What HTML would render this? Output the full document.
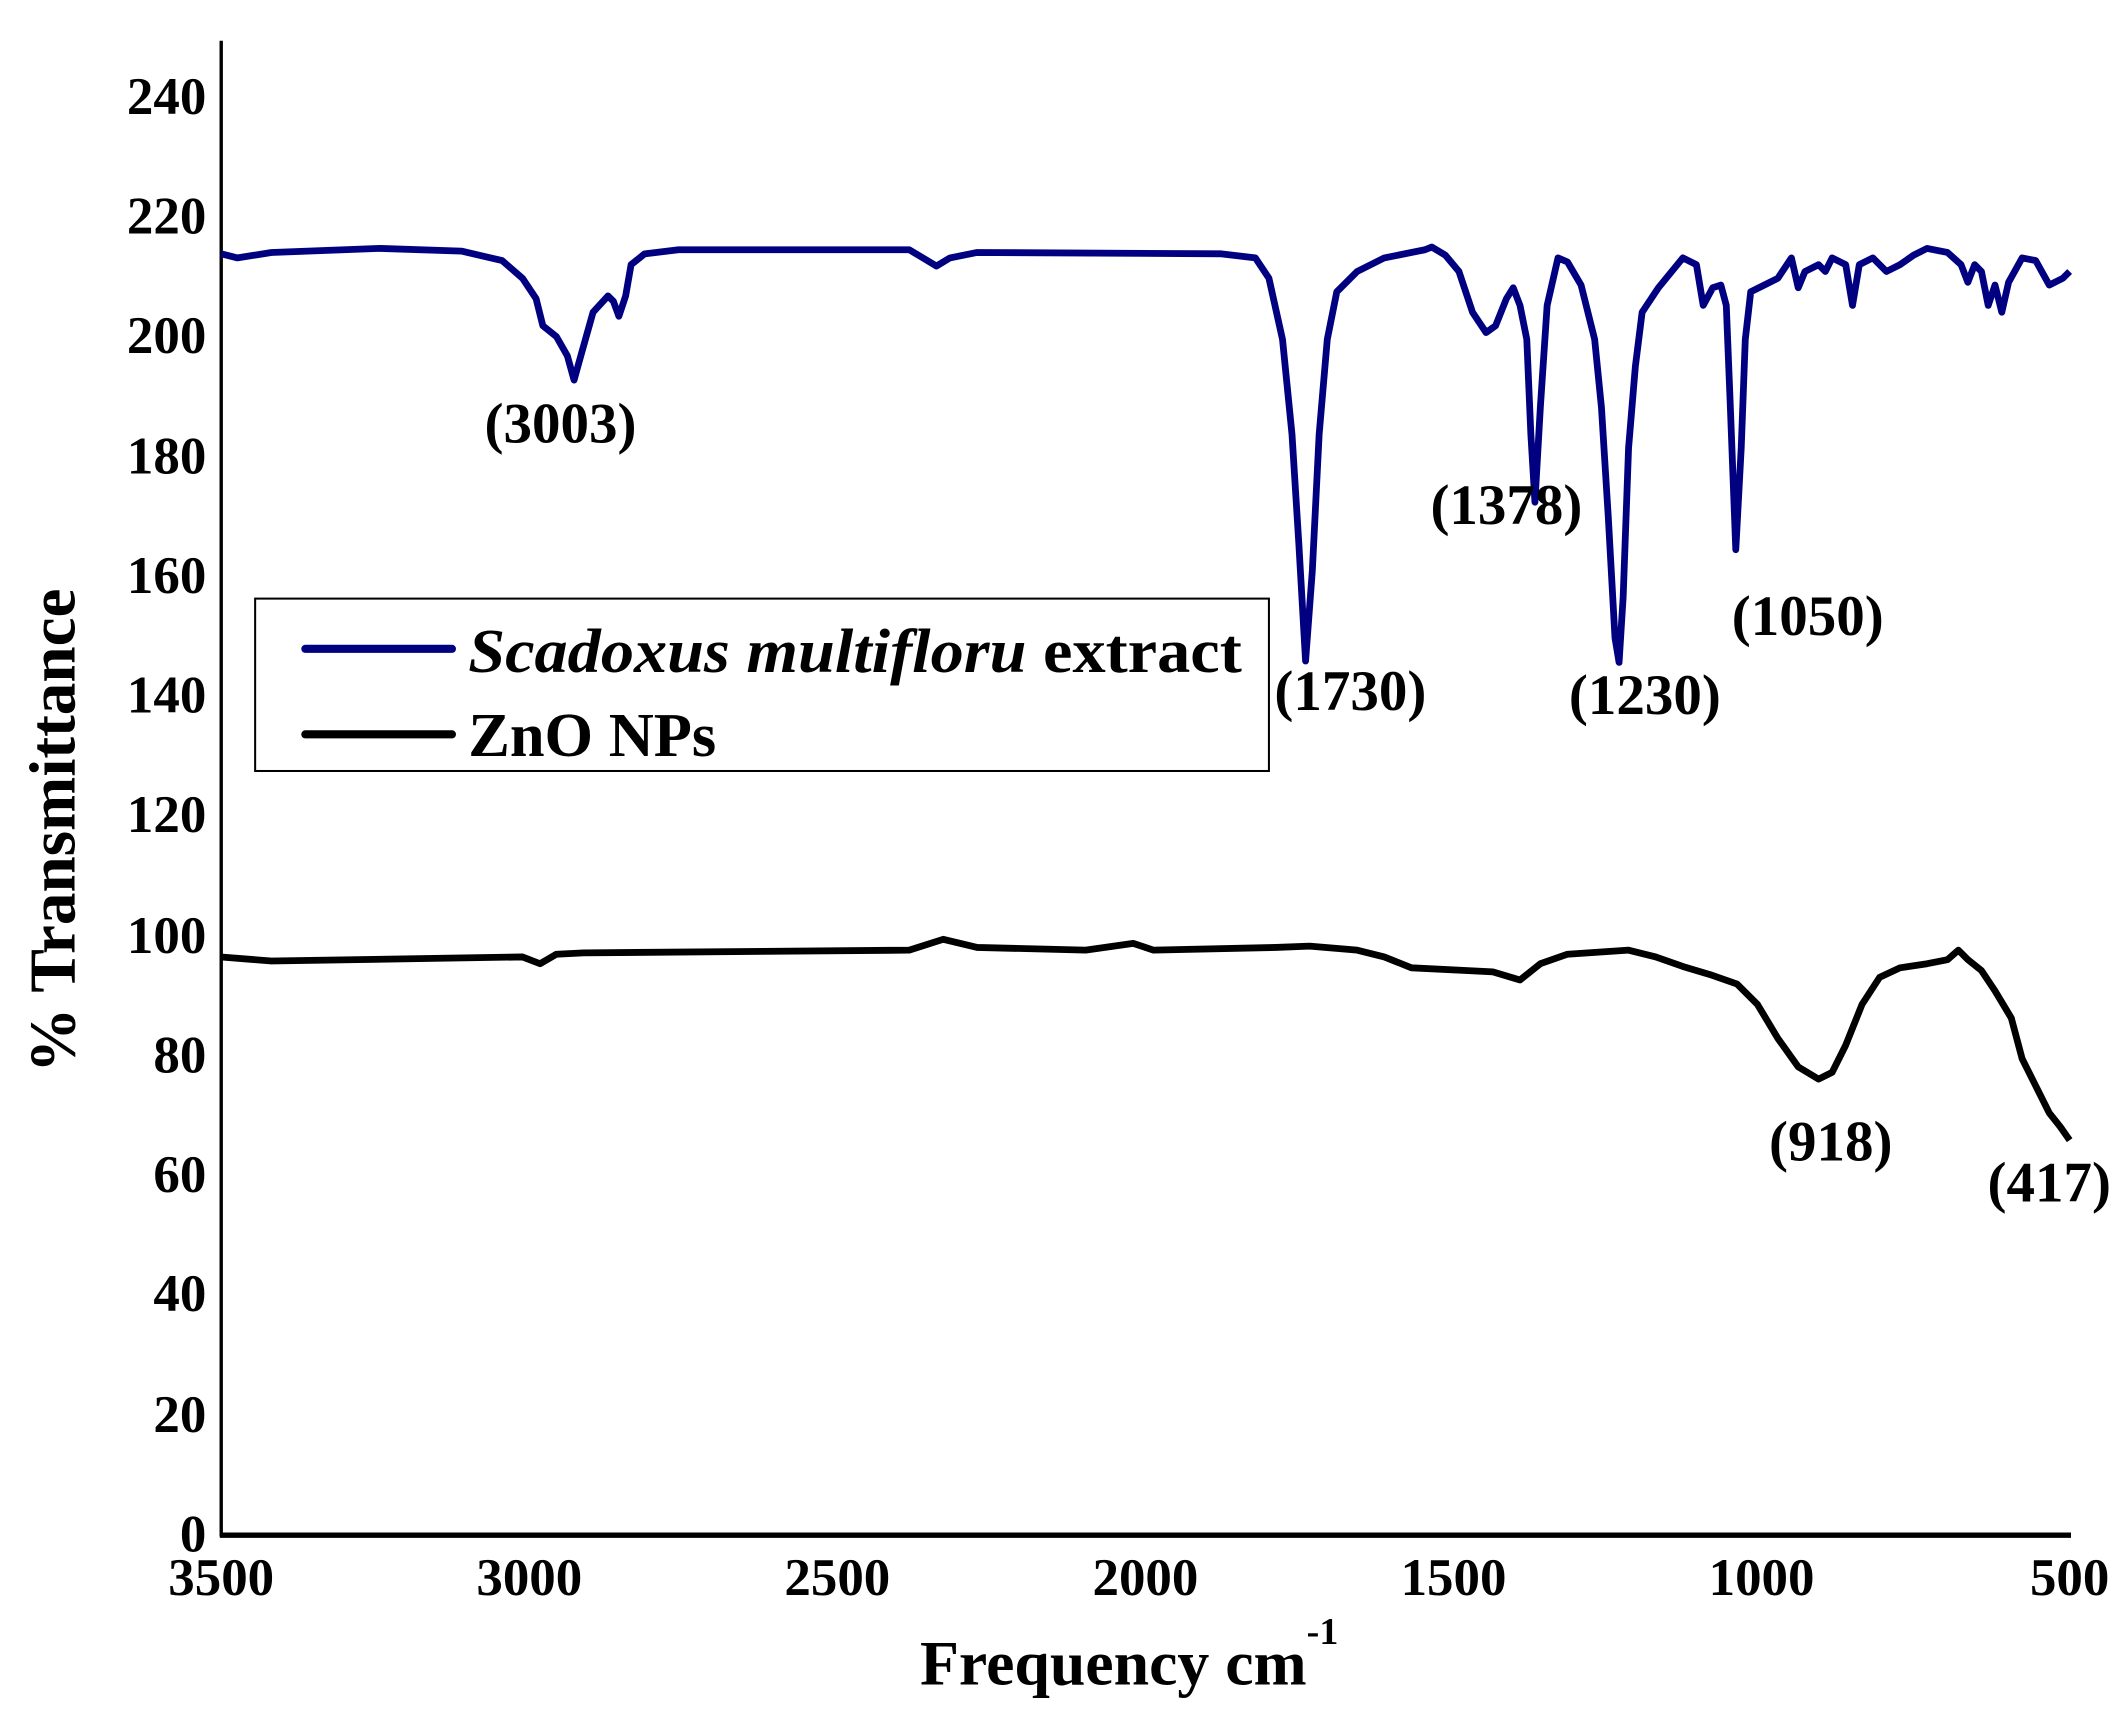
<!DOCTYPE html>
<html><head><meta charset="utf-8"><style>
html,body{margin:0;padding:0;background:#fff;width:2128px;height:1713px;overflow:hidden}
svg{display:block}
text{font-family:"Liberation Serif",serif;font-weight:bold;fill:#000}
</style></head><body>
<svg width="2128" height="1713" viewBox="0 0 1568 1262" preserveAspectRatio="none" xmlns="http://www.w3.org/2000/svg">
<rect width="1568" height="1262" fill="#fff"/>
<line x1="163" y1="30" x2="163" y2="1132" stroke="#000" stroke-width="2.5"/>
<line x1="162" y1="1131" x2="1526" y2="1131" stroke="#000" stroke-width="4"/>
<g font-size="39" text-anchor="end">
<text x="152" y="84">240</text><text x="152" y="172">220</text><text x="152" y="260">200</text>
<text x="152" y="349">180</text><text x="152" y="437">160</text><text x="152" y="525">140</text>
<text x="152" y="613">120</text><text x="152" y="702">100</text><text x="152" y="790">80</text>
<text x="152" y="878">60</text><text x="152" y="966">40</text><text x="152" y="1055">20</text>
<text x="152" y="1143">0</text>
</g>
<g font-size="39" text-anchor="middle">
<text x="163" y="1175">3500</text><text x="390" y="1175">3000</text><text x="617" y="1175">2500</text>
<text x="844" y="1175">2000</text><text x="1071" y="1175">1500</text><text x="1298" y="1175">1000</text>
<text x="1525" y="1175">500</text>
</g>
<text x="832" y="1241" font-size="47" text-anchor="middle">Frequency cm<tspan font-size="28" dy="-30">-1</tspan></text>
<text transform="translate(55,612) rotate(-90)" font-size="48" text-anchor="middle">% Transmittance</text>
<polyline fill="none" stroke="#000080" stroke-width="5" stroke-linejoin="round" points="163,187 175,190 200,186 280,183 340,185 370,192 385,205 395,220 400,240 410,248 418,262 423,280 428,262 437,230 448,218 452,222 456,233 461,218 465,195 475,187 500,184 670,184 680,190 690,196 700,190 720,186 900,187 925,190 935,205 945,250 952,320 957,400 962,487 967,420 972,320 978,250 985,215 1000,200 1020,190 1050,184 1055,182 1065,188 1075,200 1085,230 1095,245 1102,240 1110,220 1115,212 1120,225 1125,250 1128,320 1131,370 1135,300 1140,225 1148,190 1155,193 1165,210 1175,250 1180,300 1185,380 1190,470 1193,488 1196,440 1200,330 1205,270 1210,230 1222,212 1240,190 1250,195 1255,225 1262,212 1268,210 1272,225 1275,300 1279,405 1283,330 1286,250 1290,215 1300,210 1310,205 1320,190 1325,212 1330,200 1340,195 1345,200 1350,190 1360,195 1365,225 1370,195 1380,190 1390,200 1400,195 1410,188 1420,183 1435,186 1445,195 1450,208 1455,195 1460,200 1465,225 1470,210 1475,230 1480,208 1490,190 1500,192 1510,210 1520,205 1525,200"/>
<polyline fill="none" stroke="#000" stroke-width="5" stroke-linejoin="round" points="163,705 200,708 385,705 398,710 410,703 430,702 670,700 695,692 720,698 800,700 835,695 850,700 940,698 965,697 1000,700 1020,705 1040,713 1080,715 1100,716 1120,722 1135,710 1155,703 1200,700 1220,705 1240,712 1260,718 1280,725 1295,740 1310,765 1325,786 1340,795 1350,790 1360,770 1372,740 1385,720 1400,713 1420,710 1435,707 1443,700 1450,707 1460,715 1470,730 1482,750 1490,780 1500,800 1510,820 1518,830 1525,840"/>
<g font-size="42" text-anchor="middle">
<text x="413" y="326">(3003)</text>
<text x="995" y="523">(1730)</text>
<text x="1110" y="386">(1378)</text>
<text x="1212" y="526">(1230)</text>
<text x="1332" y="468">(1050)</text>
<text x="1349" y="855">(918)</text>
<text x="1510" y="885">(417)</text>
</g>
<rect x="188" y="441" width="747" height="127" fill="#fff" stroke="#000" stroke-width="1.5"/>
<line x1="225" y1="478" x2="333" y2="478" stroke="#000080" stroke-width="6" stroke-linecap="round"/>
<line x1="225" y1="541" x2="333" y2="541" stroke="#000" stroke-width="6" stroke-linecap="round"/>
<text x="345" y="495" font-size="46" textLength="570" lengthAdjust="spacingAndGlyphs"><tspan font-style="italic">Scadoxus multifloru</tspan> extract</text>
<text x="345" y="557" font-size="46">ZnO NPs</text>
</svg>
</body></html>
